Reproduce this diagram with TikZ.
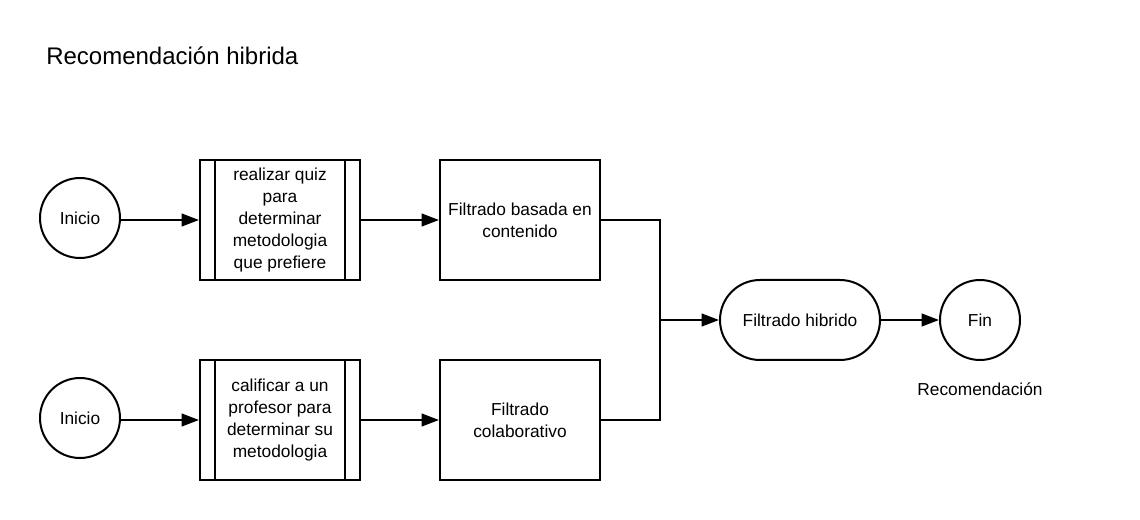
\documentclass[tikz,border=0pt]{standalone}
\usepackage{fontspec}
\setmainfont{Liberation Sans}
\usetikzlibrary{arrows.meta}
\tikzset{
  linea/.style={line width=1.5pt},
  flecha/.style={linea,-{Triangle[length=13pt,width=9.5pt]}},
  circulo/.style={circle,draw,linea,minimum size=60pt,inner sep=0pt},
  caja/.style={rectangle,draw,linea,minimum width=120pt,minimum height=90pt,inner sep=0pt,align=center},
  terminal/.style={rectangle,draw,linea,rounded corners=30pt,minimum width=120pt,minimum height=60pt,align=center},
  texto/.style={font=\fontsize{13}{16.5}\selectfont}
}
\begin{document}
\begin{tikzpicture}[x=0.75pt,y=-0.75pt,texto]
\useasboundingbox (0,0) rectangle (1140,520);
\node [anchor=west,inner sep=0pt,font=\fontsize{18}{21}\selectfont] (titulo) at (46,56) {Recomendación hibrida};
% fila de arriba
\node [circulo] (ini1) at (80,218) {Inicio};
\node [caja] (quiz) at (280,220) {realizar quiz\\para\\determinar\\metodologia\\que prefiere};
\node [caja] (cont) at (520,220) {Filtrado basada en\\contenido};
% fila de abajo
\node [circulo] (ini2) at (80,418) {Inicio};
\node [caja] (prof) at (280,420) {calificar a un\\profesor para\\determinar su\\metodologia};
\node [caja] (colab) at (520,420) {Filtrado\\colaborativo};
% bordes del proceso predefinido
\foreach \p in {quiz,prof} {
  \draw [linea] ([xshift=12pt]\p.north west)--([xshift=12pt]\p.south west);
  \draw [linea] ([xshift=-12pt]\p.north east)--([xshift=-12pt]\p.south east);
}
\node [terminal] (hib) at (800,320) {Filtrado hibrido};
\node [circulo] (fin) at (980,320) {Fin};
\node (reco) at (980,389) {Recomendación};
\coordinate (union) at (660,320);
\draw [flecha] (ini1.east|-quiz.west)--(quiz.west);
\draw [flecha] (quiz)--(cont);
\draw [flecha] (ini2.east|-prof.west)--(prof.west);
\draw [flecha] (prof)--(colab);
\draw [linea] (cont.east) -| (union) |- (colab.east);
\draw [flecha] (union)--(hib);
\draw [flecha] (hib)--(fin);
\end{tikzpicture}
\end{document}
